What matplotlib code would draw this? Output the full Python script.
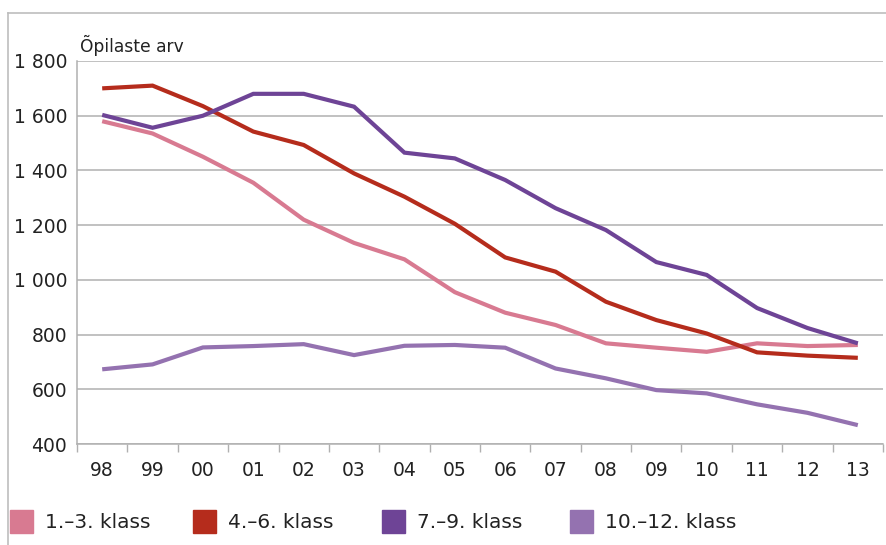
import matplotlib
matplotlib.use("Agg")
import matplotlib.pyplot as plt
from matplotlib.lines import Line2D
from matplotlib.patches import Rectangle
import numpy as np

years = ["98", "99", "00", "01", "02", "03", "04", "05", "06", "07", "08", "09", "10", "11", "12", "13"]
klass_1_3 = [1580, 1535, 1450, 1355, 1220, 1135, 1075, 955, 880, 835, 768, 752, 737, 768, 758, 762]
klass_4_6 = [1700, 1710, 1635, 1542, 1493, 1389, 1304, 1205, 1082, 1030, 920, 853, 804, 735, 723, 715]
klass_7_9 = [1603, 1556, 1600, 1680, 1680, 1633, 1465, 1444, 1365, 1262, 1182, 1065, 1018, 897, 824, 768]
klass_10_12 = [673, 691, 753, 758, 765, 725, 759, 762, 752, 676, 640, 597, 585, 545, 514, 469]
series_names = ["1.\u20133. klass", "4.\u20136. klass", "7.\u20139. klass", "10.\u201312. klass"]
colors = ["#d87a91", "#b52c1c", "#6e4496", "#9472b0"]
yticks = [400, 600, 800, 1000, 1200, 1400, 1600, 1800]
ytick_labels = ["400", "600", "800", "1 000", "1 200", "1 400", "1 600", "1 800"]

plt.rcParams['font.family'] = ['DejaVu Sans']

W, H = 887, 545
fig = plt.figure(figsize=(W / 100, H / 100), dpi=100)
ax = fig.add_axes([77 / W, 1 - 444 / H, (883 - 77) / W, (444 - 61) / H])

x = np.arange(len(years))
for vals, c in zip([klass_1_3, klass_4_6, klass_7_9, klass_10_12], colors):
    ax.plot(x, vals, color=c, lw=3.0, solid_joinstyle='miter', solid_capstyle='butt', zorder=3)

ax.set_xlim(-0.5, len(years) - 0.5)
ax.set_ylim(400, 1800)
ax.set_yticks(yticks)
ax.set_yticklabels(ytick_labels, fontsize=13.5, color="#222222")
ax.set_xticks(x)
ax.set_xticklabels(years, fontsize=13.5, color="#222222")
ax.set_xticks(np.arange(-0.5, len(years), 1), minor=True)
ax.tick_params(axis='x', which='major', length=0, pad=12)
ax.tick_params(axis='x', which='minor', length=6, color="#b0b0b0", width=1)
ax.tick_params(axis='y', length=0, pad=7)
ax.grid(axis='y', color="#b0b0b0", lw=1.1, zorder=0)
for s in ["top", "right"]:
    ax.spines[s].set_visible(False)
for s in ["left", "bottom"]:
    ax.spines[s].set_color("#b0b0b0")
    ax.spines[s].set_linewidth(1.1)
ax.set_axisbelow(True)

fig.text(80 / W, 1 - 45 / H, "\u00d5pilaste arv", fontsize=12.3, color="#222222", va='center', ha='left')

# outer frame
fig.add_artist(Line2D([8 / W, 1], [1 - 13 / H, 1 - 13 / H], color="#bdbdbd", lw=1.2, transform=fig.transFigure))
fig.add_artist(Line2D([8 / W, 8 / W], [0, 1 - 13 / H], color="#bdbdbd", lw=1.2, transform=fig.transFigure))

# legend
sw_x = [10, 193, 382, 570]
for sx, c, name in zip(sw_x, colors, series_names):
    fig.add_artist(Rectangle((sx / W, 1 - 533 / H), 23 / W, 23 / H, color=c, transform=fig.transFigure))
    fig.text((sx + 35) / W, 1 - 522 / H, name, fontsize=14.5, color="#222222", va='center', ha='left')

fig.savefig("out.png", dpi=100)
